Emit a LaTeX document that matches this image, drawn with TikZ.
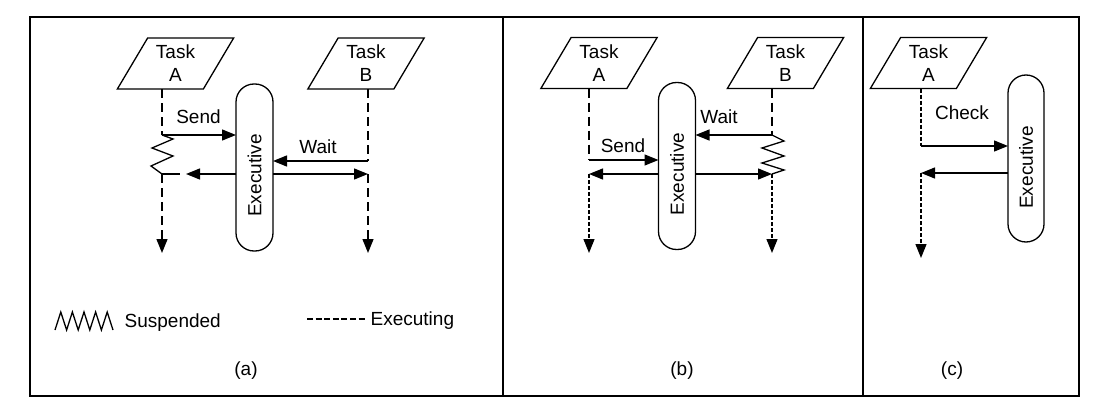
\documentclass[tikz,border=0pt]{standalone}
\usepackage{fontspec}
\setmainfont{Liberation Sans}
\usetikzlibrary{arrows.meta,shapes.geometric}
\begin{document}
\begin{tikzpicture}[x=1pt,y=-1pt,
  line width=1.3pt,
  font=\fontsize{19}{23}\selectfont,
  task/.style={draw, trapezium, trapezium left angle=60, trapezium right angle=120,
    trapezium stretches=true, minimum width=117pt, minimum height=51pt,
    inner sep=0pt, outer sep=0pt, align=center},
  exe/.style={draw, rounded corners=18pt, minimum width=37pt, minimum height=167pt,
    inner sep=0pt, outer sep=0pt},
  arr/.style={-{Triangle[length=14pt,width=11pt]}},
  longdash/.style={dash pattern=on 9pt off 5pt},
  shortdash/.style={dash pattern=on 4pt off 2pt},
  lbl/.style={inner sep=0pt},
  frame/.style={line width=1.6pt}
]
\useasboundingbox (0,0) rectangle (1114,415);
% frame
\draw[frame] (30,17) rectangle (1079,396);
\draw[frame] (503,17) -- (503,396);
\draw[frame] (863,17) -- (863,396);

% ---------------- panel (a)
\node[task] (aA) at (175.5,63.5) {Task\\A};
\node[task] (aB) at (366,63.5) {Task\\B};
\node[exe] (aE) at (254.5,167.5) {\rotatebox{90}{Executive\hspace{16pt}}};
\coordinate (aA1) at (162,135);
\coordinate (aA2) at (162,174);
\coordinate (aA3) at (162,253);
\coordinate (aB1) at (368,161);
\coordinate (aB2) at (368,174);
\coordinate (aB3) at (368,253);
\coordinate (aAr) at (186,174);
\coordinate (aAs) at (180,174);
\draw[longdash] (aA.south -| aA1) -- (aA1);
\draw (aA1) -- (173,139) -- (152,148) -- (173,156) -- (151,166) -- (aA2);
\draw[arr] (aA1) -- (aA1 -| aE.west);
\draw[longdash] (aB.south -| aB1) -- (aB1);
\draw[arr] (aB1) -- (aB1 -| aE.east);
\draw[arr] (aAr -| aE.west) -- (aAr);
\draw (aA2) -- (aAs);
\draw[arr] (aB2 -| aE.east) -- (aB2);
\draw[longdash,arr] (aA2) -- (aA3);
\draw[longdash,arr] (aB2) -- (aB3);
\node[lbl,anchor=base] (aS) at (198.5,123) {Send};
\node[lbl,anchor=base] (aW) at (318,153) {Wait};
\node (aL) at (246,371) {(a)};
% legend
\draw (55,330) -- (60.8,312) -- (66.6,330) -- (72.4,312) -- (78.2,330) -- (84,312)
  -- (89.8,330) -- (95.6,312) -- (101.4,330) -- (107.2,312) -- (113,330);
\node[lbl,anchor=base west] (aSu) at (124,327) {Suspended};
\coordinate (aD1) at (307,319);
\coordinate (aD2) at (367,319);
\draw[dash pattern=on 6pt off 2.6pt] (aD1) -- (aD2);
\node[lbl,anchor=base west] (aEx) at (370,325) {Executing};

% ---------------- panel (b)
\node[task] (bA) at (599,63) {Task\\A};
\node[task] (bB) at (785.5,63) {Task\\B};
\node[exe] (bE) at (677,166) {\rotatebox{90}{Executive\hspace{16pt}}};
\coordinate (bA1) at (589,160);
\coordinate (bA2) at (589,174);
\coordinate (bA3) at (589,253);
\coordinate (bB1) at (772,135);
\coordinate (bB2) at (772,174);
\coordinate (bB3) at (772,253);
\draw[longdash] (bA.south -| bA1) -- (bA1);
\draw[arr] (bA1) -- (bA1 -| bE.west);
\draw[arr] (bA2 -| bE.west) -- (bA2);
\draw[shortdash,arr] (bA2) -- (bA3);
\draw[longdash] (bB.south -| bB1) -- (bB1);
\draw[arr] (bB1) -- (bB1 -| bE.east);
\draw (bB1) -- (784,141) -- (762,148) -- (784,156) -- (762,163) -- (784,170) -- (bB2);
\draw[arr] (bB2 -| bE.east) -- (bB2);
\draw[shortdash,arr] (bB2) -- (bB3);
\node[lbl,anchor=base] (bS) at (623,152) {Send};
\node[lbl,anchor=base] (bW) at (719,123) {Wait};
\node (bL) at (682,371) {(b)};

% ---------------- panel (c)
\node[task] (cA) at (928.5,63) {Task\\A};
\node[exe,minimum width=36pt] (cE) at (1026,158.5) {\rotatebox{90}{Executive\hspace{18pt}}};
\coordinate (cA1) at (921,146);
\coordinate (cA2) at (921,173);
\coordinate (cA3) at (921,258);
\draw[shortdash] (cA.south -| cA1) -- (cA1);
\draw[arr] (cA1) -- (cA1 -| cE.west);
\draw[arr] (cA2 -| cE.west) -- (cA2);
\draw[shortdash,arr] (cA2) -- (cA3);
\node[lbl,anchor=base] (cC) at (962,119) {Check};
\node (cL) at (952,371) {(c)};
\end{tikzpicture}
\end{document}
